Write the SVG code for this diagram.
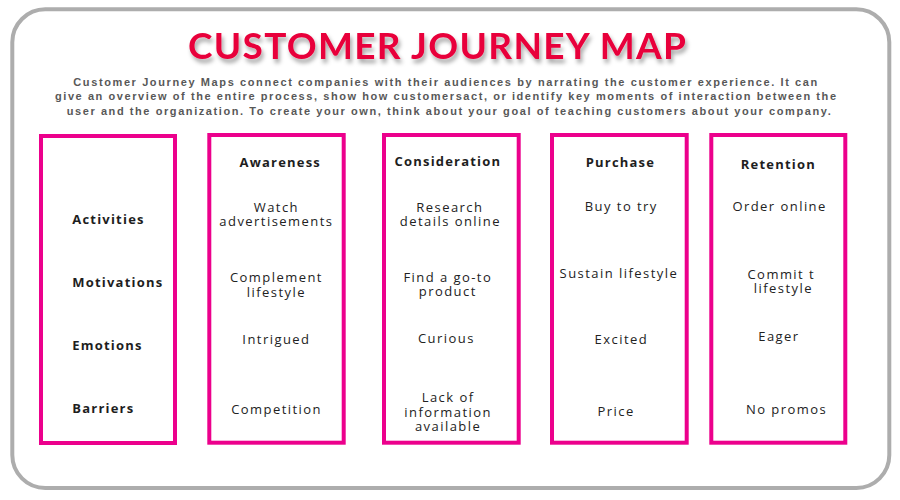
<svg xmlns="http://www.w3.org/2000/svg" width="900" height="500" viewBox="0 0 900 500">
<defs>
<style>
.frame{fill:#ffffff;stroke:#adadad;stroke-width:4}
.col{fill:#ffffff;stroke:#ec008c;stroke-width:4}
.title{font-family:Lato,"Open Sans","Liberation Sans",sans-serif;font-weight:700;font-size:37px;fill:#e8003a}
.desc{font-family:"Liberation Sans",Arial,sans-serif;font-weight:700;font-size:11px;fill:#585858}
.hd{font-family:"Open Sans","Liberation Sans",sans-serif;font-weight:700;font-size:13px;letter-spacing:1.2px;fill:#1e1e1e;text-anchor:middle}
.lbl{font-family:"Open Sans","Liberation Sans",sans-serif;font-weight:700;font-size:13px;letter-spacing:1.2px;fill:#1e1e1e}
.tx{font-family:"Open Sans","Liberation Sans",sans-serif;font-size:13px;letter-spacing:1.45px;fill:#222222;text-anchor:middle}
</style>
<filter id="shadow" x="-5%" y="-30%" width="110%" height="170%">
<feDropShadow dx="2" dy="4" stdDeviation="2" flood-color="#000000" flood-opacity="0.35"/>
</filter>
</defs>
<rect x="0" y="0" width="900" height="500" fill="#ffffff"/>
<rect class="frame" x="12.3" y="9.3" width="877" height="478.7" rx="33" ry="33"/>
<g id="title">
<text class="title" x="188" y="58.5" textLength="498" lengthAdjust="spacing" filter="url(#shadow)">CUSTOMER JOURNEY MAP</text>
</g>
<g id="description">
<text class="desc" x="73.3" y="85.5" textLength="744" lengthAdjust="spacing">Customer Journey Maps connect companies with their audiences by narrating the customer experience. It can</text>
<text class="desc" x="55" y="100" textLength="781" lengthAdjust="spacing">give an overview of the entire process, show how customersact, or identify key moments of interaction between the</text>
<text class="desc" x="66.7" y="114.5" textLength="764" lengthAdjust="spacing">user and the organization. To create your own, think about your goal of teaching customers about your company.</text>
</g>
<g id="connectors"></g>
<g id="labels">
<rect class="col" x="41" y="136" width="134" height="307"/>
<text class="lbl" x="72.3" y="224">Activities</text>
<text class="lbl" x="72.3" y="287.3">Motivations</text>
<text class="lbl" x="72.3" y="350">Emotions</text>
<text class="lbl" x="72.3" y="413.3">Barriers</text>
</g>
<g id="awareness">
<rect class="col" x="209.3" y="135" width="134.4" height="307.7"/>
<text class="hd" x="280.3" y="167">Awareness</text>
<text class="tx" x="276.4" y="211.7">Watch</text>
<text class="tx" x="276.4" y="225.7">advertisements</text>
<text class="tx" x="276.4" y="282">Complement</text>
<text class="tx" x="276.4" y="296.5">lifestyle</text>
<text class="tx" x="276.4" y="344.3">Intrigued</text>
<text class="tx" x="276.6" y="414.3">Competition</text>
</g>
<g id="consideration">
<rect class="col" x="384" y="135" width="134.7" height="307.7"/>
<text class="hd" x="447.9" y="166">Consideration</text>
<text class="tx" x="449.9" y="211.7">Research</text>
<text class="tx" x="450.4" y="226">details online</text>
<text class="tx" x="447.8" y="281.7">Find a go-to</text>
<text class="tx" x="447.8" y="296">product</text>
<text class="tx" x="446.4" y="343.3">Curious</text>
<text class="tx" x="448.1" y="401.7">Lack of</text>
<text class="tx" x="448.1" y="416.5">information</text>
<text class="tx" x="448.1" y="431">available</text>
</g>
<g id="purchase">
<rect class="col" x="552" y="135" width="134.7" height="307.7"/>
<text class="hd" x="620.4" y="167.3">Purchase</text>
<text class="tx" x="621.3" y="210.7">Buy to try</text>
<text class="tx" x="618.9" y="278.3">Sustain lifestyle</text>
<text class="tx" x="621.4" y="344.3">Excited</text>
<text class="tx" x="616.1" y="416">Price</text>
</g>
<g id="retention">
<rect class="col" x="711.3" y="135" width="134" height="307.7"/>
<text class="hd" x="778.4" y="169">Retention</text>
<text class="tx" x="779.6" y="211.3">Order online</text>
<text class="tx" x="781.3" y="278.7">Commit t</text>
<text class="tx" x="783.4" y="293.3">lifestyle</text>
<text class="tx" x="778.9" y="341">Eager</text>
<text class="tx" x="786.6" y="414">No promos</text>
</g>
</svg>
